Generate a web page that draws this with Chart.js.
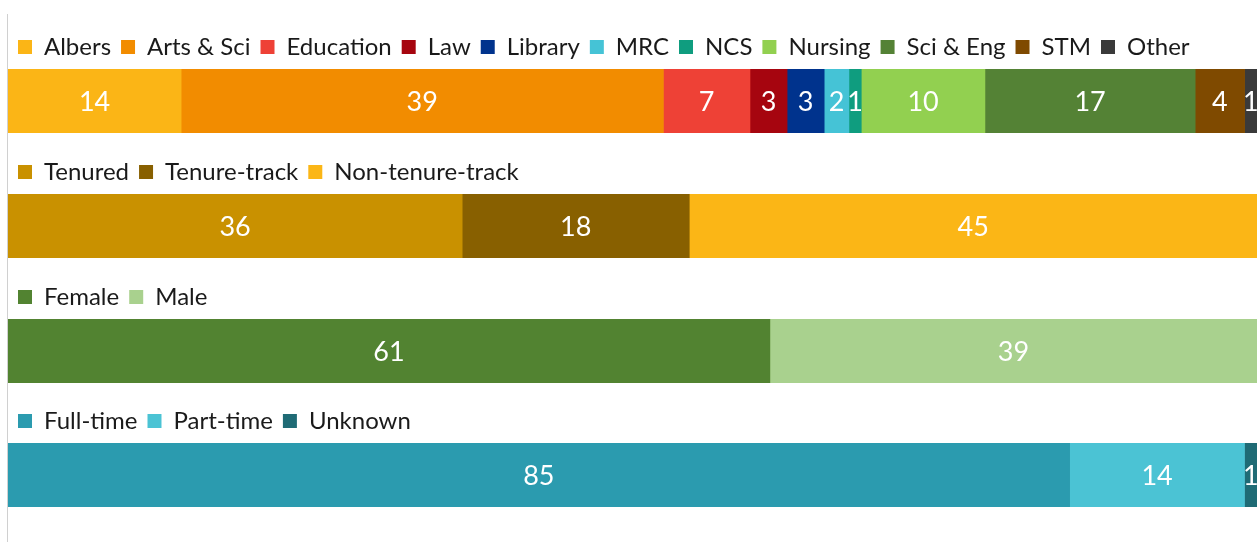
<!DOCTYPE html>
<html>
<head>
<meta charset="utf-8">
<script src="https://cdn.jsdelivr.net/npm/chart.js@4.4.1/dist/chart.umd.min.js"></script>
<style>
    body { margin: 0; background: #fff; }
    #wrap { position: relative; width: 1257px; height: 542px; overflow: hidden; }
    .row { position: absolute; left: 0; width: 1257px; height: 108px; }
    #axis { position: absolute; left: 7px; top: 14px; width: 1px; height: 528px; background: #d0d0d0; }
</style>
</head>
<body>
<div id="wrap">
    <div id="axis"></div>
    <div class="row" style="top:25px"><canvas id="c1"></canvas></div>
    <div class="row" style="top:150px"><canvas id="c2"></canvas></div>
    <div class="row" style="top:275px"><canvas id="c3"></canvas></div>
    <div class="row" style="top:399px"><canvas id="c4"></canvas></div>
</div>
<script>
// college / school
const schoolLabels = ['Albers', 'Arts & Sci', 'Education', 'Law', 'Library', 'MRC', 'NCS', 'Nursing', 'Sci & Eng', 'STM', 'Other'];
const schoolValues = [14, 39, 7, 3, 3, 2, 1, 10, 17, 4, 1];
const schoolColors = ['#FBB516', '#F28C00', '#EE4136', '#A6050F', '#00338D', '#45C3D6', '#0F9D7F', '#92D050', '#548235', '#7F4A00', '#3A3A3A'];

// tenure status
const tenureLabels = ['Tenured', 'Tenure-track', 'Non-tenure-track'];
const tenureValues = [36, 18, 45];
const tenureColors = ['#C99100', '#886000', '#FBB616'];

// gender
const genderLabels = ['Female', 'Male'];
const genderValues = [61, 39];
const genderColors = ['#528331', '#A9D18E'];

// employment
const timeLabels = ['Full-time', 'Part-time', 'Unknown'];
const timeValues = [85, 14, 1];
const timeColors = ['#2B9BAF', '#4BC3D4', '#1F6B75'];

const FONT = 'Lato, "Open Sans", sans-serif';

const barLabels = {
    id: 'barLabels',
    afterDatasetsDraw(chart) {
        const ctx = chart.ctx;
        ctx.save();
        ctx.fillStyle = '#fff';
        ctx.font = '27px ' + FONT;
        ctx.textAlign = 'center';
        ctx.textBaseline = 'middle';
        chart.data.datasets.forEach((ds, i) => {
            chart.getDatasetMeta(i).data.forEach((bar, j) => {
                const x = (bar.x + bar.base) / 2;
                ctx.fillText(String(ds.data[j]), x, bar.y + 1);
            });
        });
        ctx.restore();
    }
};

function makeChart(id, labels, values, colors) {
    const total = values.reduce((a, b) => a + b, 0);
    new Chart(document.getElementById(id), {
        type: 'bar',
        data: {
            labels: [''],
            datasets: labels.map((l, i) => ({
                label: l,
                data: [values[i]],
                backgroundColor: colors[i],
                borderWidth: 0,
                barPercentage: 1,
                categoryPercentage: 1,
                stack: 's'
            }))
        },
        options: {
            indexAxis: 'y',
            responsive: true,
            maintainAspectRatio: false,
            animation: false,
            layout: { padding: { left: 8, right: 0, top: 0, bottom: 0 } },
            scales: {
                x: { stacked: true, min: 0, max: total, display: false },
                y: { stacked: true, display: false }
            },
            plugins: {
                tooltip: { enabled: false },
                legend: {
                    position: 'top',
                    align: 'start',
                    labels: {
                        boxWidth: 14,
                        boxHeight: 14,
                        padding: 10,
                        color: '#1a1a1a',
                        font: { size: 24, family: FONT }
                    }
                }
            }
        },
        plugins: [barLabels]
    });
}

makeChart('c1', schoolLabels, schoolValues, schoolColors);
makeChart('c2', tenureLabels, tenureValues, tenureColors);
makeChart('c3', genderLabels, genderValues, genderColors);
makeChart('c4', timeLabels, timeValues, timeColors);
</script>
</body>
</html>
